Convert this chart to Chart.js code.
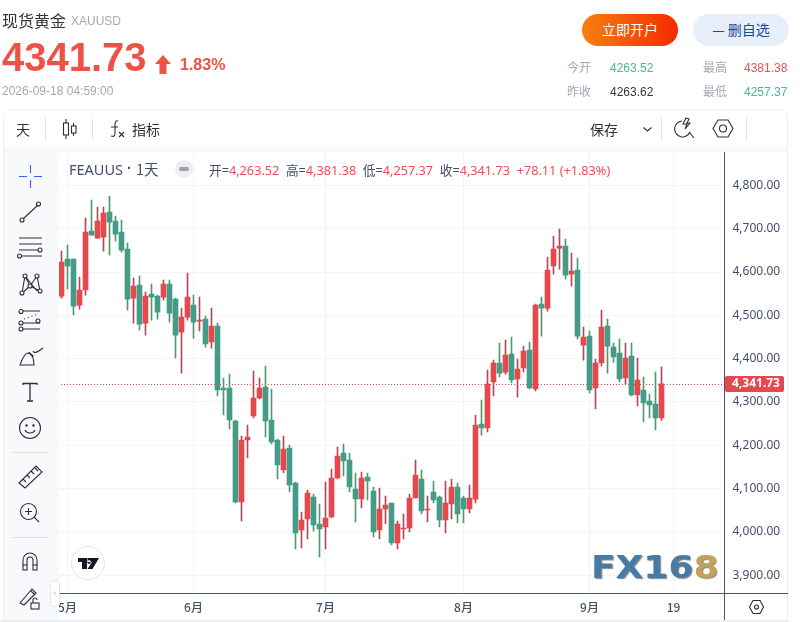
<!DOCTYPE html>
<html><head><meta charset="utf-8">
<script src="https://cdn.jsdelivr.net/npm/chart.js@4"></script>
<style>
html,body{margin:0;padding:0;background:#fff;width:800px;height:622px;overflow:hidden;font-family:"Liberation Sans","Noto Sans CJK SC",sans-serif}
.a{position:absolute;white-space:nowrap}
.c{font-family:"Noto Sans CJK SC","Liberation Sans",sans-serif}
svg{position:absolute;overflow:visible;fill:none;stroke:#2b2f3a;stroke-width:1.1}
canvas{position:absolute;left:0;top:0}
.sep{position:absolute;background:#e0e3eb}
.r{color:#ef4e55}
</style></head><body>
<canvas id="c" width="800" height="622"></canvas>

<div class="a" style="left:3px;top:109px;width:785px;height:513px;border:1px solid #eceef2;border-bottom:0;border-radius:9px 9px 0 0;box-sizing:border-box;pointer-events:none"></div>
<div class="a" style="left:4px;top:147px;width:783px;height:5px;background:#f7f8fa"></div>
<div class="a" style="left:4px;top:152px;width:55px;height:470px;background:#f8f9fb"></div>
<div class="a" style="left:0;top:620px;width:788px;height:2px;background:#eceef2"></div>
<div class="a" style="left:724px;top:152px;width:1.3px;height:468px;background:#47527a"></div>
<div class="a" style="left:59px;top:593px;width:729px;height:1.3px;background:#47527a"></div>

<div class="a c" style="left:2px;top:9px;font-size:16px;line-height:22px;color:#33363d">现货黄金</div>
<div class="a" style="left:71px;top:13px;font-size:12px;line-height:16px;color:#a3a8b4">XAUUSD</div>
<div class="a" style="left:2px;top:34px;font-size:40px;font-weight:bold;line-height:46px;color:#ee5246">4341.73</div>
<svg style="left:155px;top:55px" width="16" height="19"><path d="M8 0 L16 9 L11.5 9 L11.5 19 L4.5 19 L4.5 9 L0 9 Z" style="fill:#ee5246;stroke:none"/></svg>
<div class="a" style="left:180px;top:56px;font-size:16px;font-weight:bold;line-height:18px;color:#ee5246">1.83%</div>
<div class="a" style="left:2px;top:84px;font-size:12px;line-height:15px;color:#a3a8b4">2026-09-18 04:59:00</div>

<div class="a c" style="left:582px;top:14px;width:96px;height:32px;border-radius:16px;background:linear-gradient(90deg,#f8800f,#f52a00);color:#fff;font-size:14px;line-height:31px;text-align:center">立即开户</div>
<div class="a c" style="left:693px;top:14px;width:96px;height:32px;border-radius:16px;background:#e8effb;color:#1b4a98;font-size:14px;line-height:31px;text-align:center">—&nbsp;删自选</div>

<div class="a c" style="left:567px;top:59px;font-size:12px;line-height:16px;color:#a3a8b4">今开</div>
<div class="a" style="left:610px;top:60px;font-size:12px;line-height:16px;color:#45b79c">4263.52</div>
<div class="a c" style="left:703px;top:59px;font-size:12px;line-height:16px;color:#a3a8b4">最高</div>
<div class="a" style="left:744px;top:60px;font-size:12px;line-height:16px;color:#ef4e55">4381.38</div>
<div class="a c" style="left:567px;top:83px;font-size:12px;line-height:16px;color:#a3a8b4">昨收</div>
<div class="a" style="left:610px;top:84px;font-size:12px;line-height:16px;color:#33363d">4263.62</div>
<div class="a c" style="left:703px;top:83px;font-size:12px;line-height:16px;color:#a3a8b4">最低</div>
<div class="a" style="left:744px;top:84px;font-size:12px;line-height:16px;color:#45b79c">4257.37</div>

<div class="a c" style="left:16px;top:119px;font-size:14px;line-height:20px;color:#2b2f3a">天</div>
<div class="sep" style="left:45px;top:118px;width:1px;height:22px"></div>
<svg style="left:62px;top:119px" width="16" height="20"><path d="M4 0V20M11.5 4V17"/><rect x="1.5" y="4" width="5" height="12" style="fill:#fff"/><rect x="9.5" y="7" width="4.5" height="7" style="fill:#fff"/></svg>
<div class="sep" style="left:92px;top:118px;width:1px;height:22px"></div>
<svg style="left:109px;top:120px" width="16" height="18"><path d="M9 1C6 0 6 3 6 6V13C6 16 5 17 2 16M2 7H9M10 12L15 17M15 12L10 17"/></svg>
<div class="a c" style="left:132px;top:119px;font-size:14px;line-height:20px;color:#2b2f3a">指标</div>
<div class="a c" style="left:590px;top:119px;font-size:14px;line-height:20px;color:#2b2f3a">保存</div>
<svg style="left:643px;top:127px" width="9" height="5"><path d="M0.5 0.5L4.5 4L8.5 0.5"/></svg>
<div class="sep" style="left:661px;top:118px;width:1px;height:22px"></div>
<svg style="left:676px;top:118px" width="19" height="21"><path d="M6 3A8 8 0 1 0 14 14M13 14L18 20"/><path d="M10 0L7 6H11L9 11L14 5H11L13 1Z"/></svg>
<svg style="left:713px;top:119px" width="20" height="19"><path d="M5 1H15L20 9.5L15 18H5L0 9.5Z"/><circle cx="10" cy="9.5" r="3.5"/></svg>
<div class="sep" style="left:746px;top:118px;width:1px;height:22px"></div>

<div class="a" style="left:69px;top:159px;font-size:14.5px;line-height:20px;color:#434e6b"><span style="font-family:'Noto Sans','Noto Sans CJK SC'">FEAUUS</span> <b style="position:relative;top:-2px">·</b>&nbsp;<span class="c">1天</span></div>
<div class="a" style="left:175px;top:160px;width:18px;height:18px;border-radius:9px;background:#eceef1"></div>
<div class="a" style="left:179px;top:167px;width:10px;height:4px;border-radius:2px;background:#9ba1ad"></div>
<div class="a" style="left:209px;top:161px;font-family:'Noto Sans','Noto Sans CJK SC';font-size:12.7px;line-height:18px;color:#434e6b">开=<span class="r">4,263.52</span>&nbsp; 高=<span class="r">4,381.38</span>&nbsp; 低=<span class="r">4,257.37</span>&nbsp; 收=<span class="r">4,341.73</span>&nbsp; <span class="r">+78.11 (+1.83%)</span></div>

<svg style="left:19px;top:165px;stroke:#2962ff" width="23" height="23"><path d="M0 11.5H8M15 11.5H23M11.5 0V8M11.5 15V23"/></svg>
<svg style="left:19px;top:201px" width="23" height="22"><path d="M4 18L19 4"/><circle cx="3" cy="19" r="2"/><circle cx="19.5" cy="3" r="2"/></svg>
<svg style="left:17px;top:237px" width="25" height="20"><path d="M2 1H25M2 7H25M2 13H23M5 19H25"/><circle cx="23" cy="13" r="2" style="fill:#f8f9fb"/><circle cx="2.5" cy="19" r="2" style="fill:#f8f9fb"/></svg>
<svg style="left:19px;top:273px" width="23" height="22"><path d="M3 20L6 3L11 13L18 3L21 18L11 13L3 20M6 3L18 18"/><circle cx="3" cy="20" r="2" style="fill:#f8f9fb"/><circle cx="6" cy="3" r="2" style="fill:#f8f9fb"/><circle cx="18" cy="3" r="2" style="fill:#f8f9fb"/><circle cx="21" cy="18" r="2" style="fill:#f8f9fb"/><circle cx="11" cy="13" r="2" style="fill:#f8f9fb"/></svg>
<svg style="left:18px;top:310px" width="24" height="22"><path d="M4 1H22M4 13H22M4 19H22"/><path d="M6 9L20 4" stroke-dasharray="1 3"/><circle cx="3" cy="1.5" r="2" style="fill:#f8f9fb"/><circle cx="3" cy="13" r="2" style="fill:#f8f9fb"/><circle cx="3" cy="19" r="2" style="fill:#f8f9fb"/><circle cx="20" cy="11" r="2" style="fill:#f8f9fb"/></svg>
<svg style="left:19px;top:347px" width="24" height="20"><path d="M1 18H15C15 11 13 7 9 6C5 7 3 12 1 18ZM10 5C12 8 15 8 14 10M14 4C15 7 19 5 24 1"/></svg>
<svg style="left:23px;top:383px" width="15" height="19"><path d="M0 2V0.5H14V2M7 0.5V18M4 18H10" style="stroke-width:1.3"/></svg>
<svg style="left:19px;top:417px" width="22" height="22"><circle cx="11" cy="11" r="10.5"/><circle cx="7.5" cy="8.5" r="0.7"/><circle cx="14.5" cy="8.5" r="0.7"/><path d="M6 13C8 17 14 17 16 13"/></svg>
<div class="sep" style="left:12px;top:452px;width:36px;height:1px"></div>
<svg style="left:18px;top:465px" width="24" height="24"><path d="M1 18L18 1L24 7L7 23Z"/><path d="M5 14L8 17M9 10L12 13M13 6L16 9M17 3L20 6"/></svg>
<svg style="left:20px;top:503px" width="19" height="19"><circle cx="8.5" cy="8.5" r="8"/><path d="M14 14L19 19M5 8.5H12M8.5 5V12"/></svg>
<div class="sep" style="left:12px;top:537px;width:36px;height:1px"></div>
<svg style="left:22px;top:552px" width="16" height="19"><path d="M1 13V8A7 7 0 0 1 15 8V13M5 13V8A3 3 0 0 1 11 8V13"/><rect x="1" y="13" width="4" height="5"/><rect x="11" y="13" width="4" height="5"/></svg>
<svg style="left:19px;top:588px" width="22" height="21"><path d="M1 15L13 1L17 5L5 17L1 15ZM12 3L16 7"/><rect x="12" y="15" width="8" height="6"/><path d="M14 15V12A2 2 0 0 1 18 12"/></svg>
<div class="a" style="left:50px;top:580px;width:8px;height:25px;border:1px solid #e4e6ec;border-radius:4px;background:#fff;color:#b0b4bf;font-size:9px;line-height:24px;text-align:center">‹</div>

<div class="a" style="left:71px;top:546px;width:34px;height:34px;box-sizing:border-box;border-radius:17px;border:1px solid #e0e3eb;background:#fff"></div>
<svg style="left:78px;top:558px;stroke:none" width="21" height="11"><path d="M0 0H9V11H4V4H0ZM9.5 0H21L14.5 11H9.5L14 4H9.5ZM11 2.2a1.8 1.8 0 1 0 .01 0" style="fill:#131722"/></svg>

<div class="a" style="left:591px;top:546px;height:42px;line-height:42px;font-family:'DejaVu Sans';font-weight:bold;font-size:32px;color:#477ba3;text-shadow:1px 1px 1px #888;transform:scaleX(1.125);transform-origin:left center">FX16<span style="color:#c4a159">8</span></div>

<svg style="left:749px;top:600px" width="15" height="14"><path d="M4 0.5H11L14.5 7L11 13.5H4L0.5 7Z"/><circle cx="7.5" cy="7" r="2"/></svg>

<script>
const categories = [
  '','5月','','','','','','','','',
  '','','','','','','','','','',
  '','','6月','','','','','','','',
  '','','','','','','','','','',
  '','','','','7月','','','','','',
  '','','','','','','','','','',
  '','','','','','','','8月','','',
  '','','','','','','','','','',
  '','','','','','','','','9月','',
  '','','','','','','','','','',
  '','','19','','','','','','','',
  ''
];
const tickValues = [3900,4000,4100,4200,4300,4400,4500,4600,4700,4800];
const lastPrice = 4341.73;
const opens = [4544.5,4629.9,4629.9,4523.7,4558.4,4694.5,4678.4,4680.7,4738.4,4717.6,4692.2,4653,4539.9,4569.9,4482.2,4549.1,4544.5,4542.2,4572.2,4537.6,4461.4,4496,4523.7,4486.8,4491.4,4438.4,4475.3,4332.3,4332.3,4256.2,4069.2,4212.3,4267.7,4309.2,4334.6,4258.5,4212.3,4143.1,4193.9,4113.1,4004.6,4030,4080.8,4018.5,4011.5,4034.6,4124.6,4182.3,4166.2,4099.2,4076.2,4126.9,4094.6,4004.6,4053,4066.8,3974.5,4006.8,4009.1,4078.4,4122.2,4050.7,4092.2,4080.7,4027.6,4064.5,4103.7,4078.4,4053,4076,4249.1,4239.9,4346.1,4389.9,4369.1,4410.7,4353,4378.4,4419.9,4329.9,4526.1,4516.8,4613.8,4655.3,4659.9,4595.3,4604.5,4431.4,4452.2,4332.2,4389.9,4475.3,4426.8,4413,4355.3,4406.1,4316.1,4327.6,4302.2,4295.3,4263.52];
const highs = [4648.4,4662.2,4629.9,4588.4,4724.5,4766,4749.9,4749.9,4775.3,4729.1,4719.9,4666.8,4586.1,4590.7,4553.8,4572.2,4546.8,4581.4,4581.4,4539.9,4516.8,4597.6,4546.8,4542.2,4498.4,4516.8,4482.2,4355.4,4364.6,4258.5,4221.5,4246.9,4371.5,4355.4,4383.1,4330,4214.6,4221.5,4200.8,4115.4,4046.2,4096.9,4087.7,4064.6,4115.4,4145.4,4196.2,4203.1,4182.3,4136.2,4138.5,4136.2,4103.9,4101.5,4083,4066.8,4025.3,4041.4,4087.6,4166,4143,4083,4117.6,4083,4117.6,4122.2,4113,4083,4108.4,4269.9,4304.5,4373.8,4396.8,4436,4443,4449.9,4399.1,4429.1,4438.4,4526.1,4542.2,4634.5,4683,4699.1,4676,4643.8,4632.2,4473,4463.8,4399.2,4512.2,4491.5,4436.1,4445.3,4436.1,4436.1,4401.5,4357.6,4318.4,4369.2,4381.38];
const lows = [4539.9,4560.7,4500.7,4514.5,4546.8,4685.3,4678.4,4648.4,4639.1,4671.4,4646,4512.2,4482.2,4466,4454.5,4489.1,4491.4,4535.3,4484.5,4401.4,4366.8,4489.1,4447.6,4463.8,4426.8,4424.5,4313.8,4270,4237.7,4066.9,4025.4,4170.8,4263.1,4306.9,4219.2,4203.1,4122.3,4136.2,4092.3,3960.8,3963.1,3983.9,4002.3,3942.3,3960.8,4032.3,4122.3,4129.2,4092.3,4023.1,4055.4,4073.9,3988.5,3983.9,4018.4,3969.9,3960.7,3983.7,4000,4078.4,4041.4,4023,4066.8,4011.4,3997.6,4029.9,4020.7,4020.7,4043.7,4066.8,4223.7,4230.7,4313.8,4357.6,4364.5,4343.8,4311.4,4369.1,4329.9,4325.3,4452.2,4509.9,4595.3,4606.8,4583.8,4567.6,4445.3,4396.8,4320.7,4283.8,4383,4366.8,4392.2,4346.1,4341.5,4313.8,4290.7,4253.8,4263,4235.3,4257.37];
const closes = [4623,4613.7,4521.4,4558.4,4692.2,4685.3,4717.6,4736,4715.3,4687.6,4650.7,4537.6,4567.6,4479.9,4544.5,4542.2,4507.6,4572.2,4505.3,4454.5,4496,4542.2,4484.5,4489.1,4433.8,4475.3,4327.7,4327.7,4258.5,4069.2,4212.3,4219.2,4309.2,4332.3,4256.2,4207.7,4154.6,4191.5,4108.5,3997.7,4027.7,4090,4016.2,4006.9,4032.3,4124.6,4175.4,4163.9,4103.9,4076.2,4124.6,4117.7,4000,4053.1,4062.2,3974.5,4018.4,4009.1,4078.4,4131.4,4048.4,4053,4073.7,4027.6,4066.8,4103.7,4041.4,4053,4078.4,4246.8,4239.9,4341.4,4389.9,4366.8,4408.4,4350.7,4376,4417.6,4332.2,4523.8,4516.8,4604.5,4653,4659.9,4593,4602.2,4452.2,4449.9,4327.6,4389.9,4473,4429.1,4403.8,4353,4401.5,4316.1,4350.7,4297.6,4293,4263,4341.73];

const UP = '#e5484d', DOWN = '#459b87', UP_WICK = '#b14a5a', DOWN_WICK = '#4f9a6c';
const isUp = ctx => closes[ctx.dataIndex] >= opens[ctx.dataIndex];
const AXIS = '#434e6b', GRID = '#f3f4f6';

const priceLine = {
  id: 'priceLine',
  beforeDatasetsDraw(chart) {
    const {ctx, chartArea, scales} = chart, y = Math.round(scales.y.getPixelForValue(lastPrice)) + .5;
    ctx.save();
    ctx.strokeStyle = '#d9434a'; ctx.lineWidth = 1; ctx.setLineDash([1, 2]);
    ctx.beginPath(); ctx.moveTo(Math.floor(chartArea.left), y); ctx.lineTo(Math.floor(chartArea.right), y); ctx.stroke();
    ctx.restore();
  },
  afterDraw(chart) {
    const {ctx, scales} = chart, y = Math.round(scales.y.getPixelForValue(lastPrice));
    ctx.save();
    ctx.fillStyle = UP;
    ctx.beginPath(); ctx.roundRect(725, y - 8, 59, 16, 2); ctx.fill();
    ctx.fillStyle = '#fff'; ctx.font = 'bold 12px "Noto Sans"'; ctx.textAlign = 'left'; ctx.textBaseline = 'middle';
    ctx.fillText('4,341.73', 732, y);
    ctx.restore();
  }
};

new Chart(document.getElementById('c'), {
  type: 'bar',
  plugins: [priceLine],
  data: {
    labels: categories,
    datasets: [
      { label: 'wick', order: 2, barThickness: 1, maxBarThickness: 1, stack: 'candle',
        data: lows.map((l, i) => [l, highs[i]]),
        backgroundColor: ctx => isUp(ctx) ? UP_WICK : DOWN_WICK },
      { label: 'body', order: 1, barThickness: 5, maxBarThickness: 5, stack: 'candle',
        data: opens.map((o, i) => [o, closes[i]]),
        backgroundColor: ctx => isUp(ctx) ? UP : DOWN }
    ]
  },
  options: {
    responsive: false, animation: false, devicePixelRatio: 1,
    layout: { padding: { left: 58.5, top: 152, right: 0, bottom: 0 } },
    plugins: { legend: { display: false }, tooltip: { enabled: false } },
    datasets: { bar: { borderWidth: 0, borderSkipped: false, minBarLength: 1 } },
    scales: {
      x: {
        offset: true, stacked: true,
        afterBuildTicks: s => { s.ticks = s.ticks.filter(t => categories[t.value]); },
        afterFit: s => { s.height = 28.5; },
        grid: { color: GRID, offset: false, drawTicks: false },
        border: { display: false },
        ticks: { autoSkip: false, maxRotation: 0, padding: 7, color: AXIS,
          font: { size: 12, weight: '500', family: '"Noto Sans CJK SC"' },
          callback: function (v) { return categories[v]; } }
      },
      y: {
        position: 'right', min: 3858, max: 4877, stacked: false,
        afterBuildTicks: s => { s.ticks = tickValues.map(value => ({ value })); },
        afterFit: s => { s.width = 75.5; },
        grid: { color: GRID, drawTicks: false },
        border: { display: false },
        ticks: { padding: 8, color: AXIS, font: { size: 12, family: '"Noto Sans"' },
          callback: v => v.toLocaleString('en-US', { minimumFractionDigits: 2 }) }
      }
    }
  }
});
</script>
</body></html>
